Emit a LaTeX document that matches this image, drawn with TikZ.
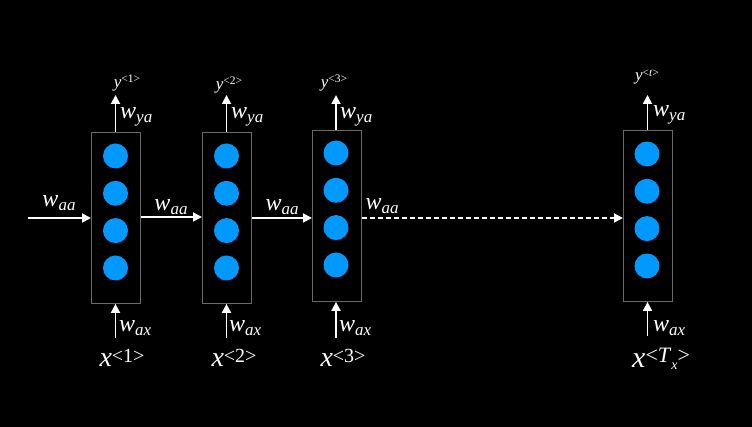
\documentclass[tikz,border=0pt]{standalone}
\usepackage{fontspec}
\setmainfont{Liberation Serif}
\usetikzlibrary{arrows.meta}
\definecolor{cellblue}{RGB}{0,153,255}
\definecolor{boxgray}{RGB}{105,105,105}
\newcommand{\wlbl}[1]{{\fontsize{24}{24}\selectfont\itshape w}\raisebox{-0.36em}{\fontsize{17}{17}\selectfont\itshape #1}}
\newcommand{\xlbl}[1]{{\fontsize{28}{28}\selectfont\itshape x}\raisebox{0.45em}{\fontsize{20}{20}\selectfont #1}}
\newcommand{\ylbl}[1]{{\fontsize{17}{17}\selectfont\itshape y}\raisebox{0.45em}{\fontsize{11.5}{11.5}\selectfont #1}}
\begin{document}
\begin{tikzpicture}[x=1pt,y=-1pt,
  cellbox/.style={draw=boxgray, line width=0.9pt, minimum width=49pt, minimum height=171pt, inner sep=0pt, anchor=north west},
  unit/.style={circle, fill=cellblue, minimum size=25pt, inner sep=0pt},
  arr/.style={white, line width=1.8pt, -{Triangle[length=9pt,width=9pt]}},
  darr/.style={arr, dashed, dash pattern=on 5pt off 3pt},
  lbl/.style={text=white, inner sep=0pt}]
\fill[black] (0,0) rectangle (752,427);
\useasboundingbox (0,0) rectangle (752,427);
% boxes
\node[cellbox] (c1) at (91,132) {};
\node[cellbox] (c2) at (202,132) {};
\node[cellbox] (c3) at (312,130) {};
\node[cellbox] (c4) at (623,130) {};
% units
\foreach \b/\x/\y in {1/115.5/156, 2/226.5/156, 3/336/153, 4/647/154}{
  \node[unit] (u\b a) at (\x,\y) {};
  \node[unit] (u\b b) at (\x,\y+37.3) {};
  \node[unit] (u\b c) at (\x,\y+74.6) {};
  \node[unit] (u\b d) at (\x,\y+112) {};
}
% inputs / outputs coordinates
\coordinate (in0) at (28,218);
\coordinate (o1) at (115.5,95);  \coordinate (i1) at (115.5,338);
\coordinate (o2) at (226.5,95);  \coordinate (i2) at (226.5,338);
\coordinate (o3) at (336,95);    \coordinate (i3) at (336,338);
\coordinate (o4) at (647.5,95);  \coordinate (i4) at (647.5,336);
% vertical arrows
\draw[arr] (o1 |- c1.north) -- (o1);
\draw[arr] (o2 |- c2.north) -- (o2);
\draw[arr] (o3 |- c3.north) -- (o3);
\draw[arr] (o4 |- c4.north) -- (o4);
\draw[arr] (i1) -- (i1 |- c1.south);
\draw[arr] (i2) -- (i2 |- c2.south);
\draw[arr] (i3) -- (i3 |- c3.south);
\draw[arr] (i4) -- (i4 |- c4.south);
% horizontal arrows
\draw[arr] (in0) -- (in0 -| c1.west);
\draw[arr] (c1.east |- 0,217) -- (c2.west |- 0,217);
\draw[arr] (c2.east |- 0,218) -- (c3.west |- 0,218);
\draw[darr] (c3.east |- 0,218) -- (c4.west |- 0,218);
% labels
\node[lbl] (laa0) at (59,203) {\wlbl{aa}};
\node[lbl] (laa1) at (171,207) {\wlbl{aa}};
\node[lbl] (laa2) at (282,207) {\wlbl{aa}};
\node[lbl] (laa3) at (382,206) {\wlbl{aa}};
\node[lbl, anchor=west] (lya1) at (120,117) {\wlbl{ya}};
\node[lbl, anchor=west] (lya2) at (231,117) {\wlbl{ya}};
\node[lbl, anchor=west] (lya3) at (340,117) {\wlbl{ya}};
\node[lbl, anchor=west] (lya4) at (653,115) {\wlbl{ya}};
\node[lbl, anchor=west] (lax1) at (119,328) {\wlbl{ax}};
\node[lbl, anchor=west] (lax2) at (229,328) {\wlbl{ax}};
\node[lbl, anchor=west] (lax3) at (339,328) {\wlbl{ax}};
\node[lbl, anchor=west] (lax4) at (653,328) {\wlbl{ax}};
\node[lbl] (ly1) at (127,83) {\ylbl{<1>}};
\node[lbl] (ly2) at (229,85) {\ylbl{<2>}};
\node[lbl] (ly3) at (334,83) {\ylbl{<3>}};
\node[lbl] (ly4) at (647,77) {\ylbl{<\textit{t}>}};
\node[lbl] (lx1) at (122,358) {\xlbl{<1>}};
\node[lbl] (lx2) at (234,358) {\xlbl{<2>}};
\node[lbl] (lx3) at (343,358) {\xlbl{<3>}};
\node[lbl, anchor=west] (lx4) at (632,359) {{\fontsize{30}{30}\selectfont\itshape x}\raisebox{0.42em}{\fontsize{22}{22}\selectfont <\textit{T}\raisebox{-0.3em}{\fontsize{14}{14}\selectfont\itshape x}>}};
\end{tikzpicture}
\end{document}
